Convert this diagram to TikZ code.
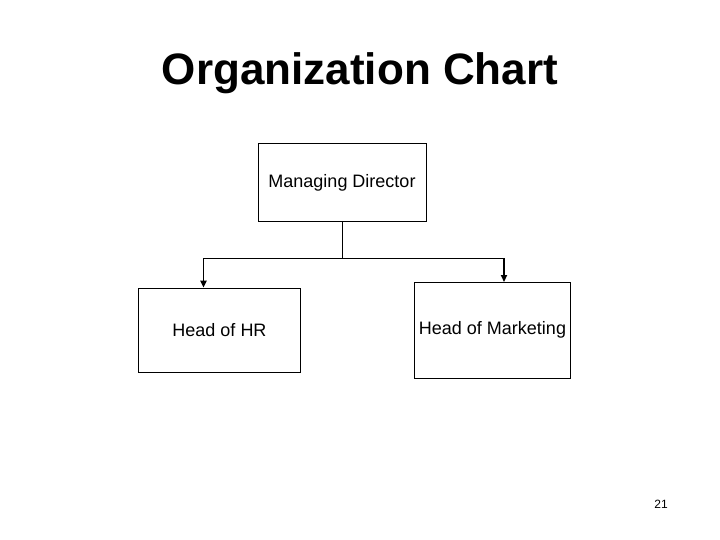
\documentclass[tikz,border=0pt]{standalone}
\usepackage{fontspec}
\setmainfont{Liberation Sans}
\usetikzlibrary{arrows.meta}
\begin{document}
\begin{tikzpicture}[x=1pt,y=-1pt,
  orgbox/.style={draw=black,line width=1pt,minimum width=#1,inner sep=0pt,font=\fontsize{18}{20}\selectfont},
  link/.style={line width=0.9pt},
  droparrow/.style={line width=1.8pt,-{Triangle[length=7pt,width=6pt]}}]
\useasboundingbox[fill=white] (0,0) rectangle (720,540);
\node[font=\bfseries\fontsize{44}{48}\selectfont,anchor=base] (title) at (360,85) {Organization Chart};
\node[orgbox=168pt,minimum height=78pt] (md) at (342,183) {Managing Director};
\node[orgbox=162pt,minimum height=84pt] (hr) at (219.5,330.2) {Head of HR};
\node[orgbox=156pt,minimum height=95.5pt] (mk) at (492.5,330.3) {Head of Marketing};
\node[font=\fontsize{12}{14}\selectfont] (pg) at (661,504) {21};
\coordinate (j) at (342,258);
\coordinate (jl) at (203.5,258);
\coordinate (jr) at (504,258);
\draw[link] (md.south) -- (j);
\draw[link] (jl) -- (jr);
\draw[droparrow] (jl) -- (jl |- hr.north);
\draw[droparrow] (jr) -- (jr |- mk.north);
\end{tikzpicture}
\end{document}
